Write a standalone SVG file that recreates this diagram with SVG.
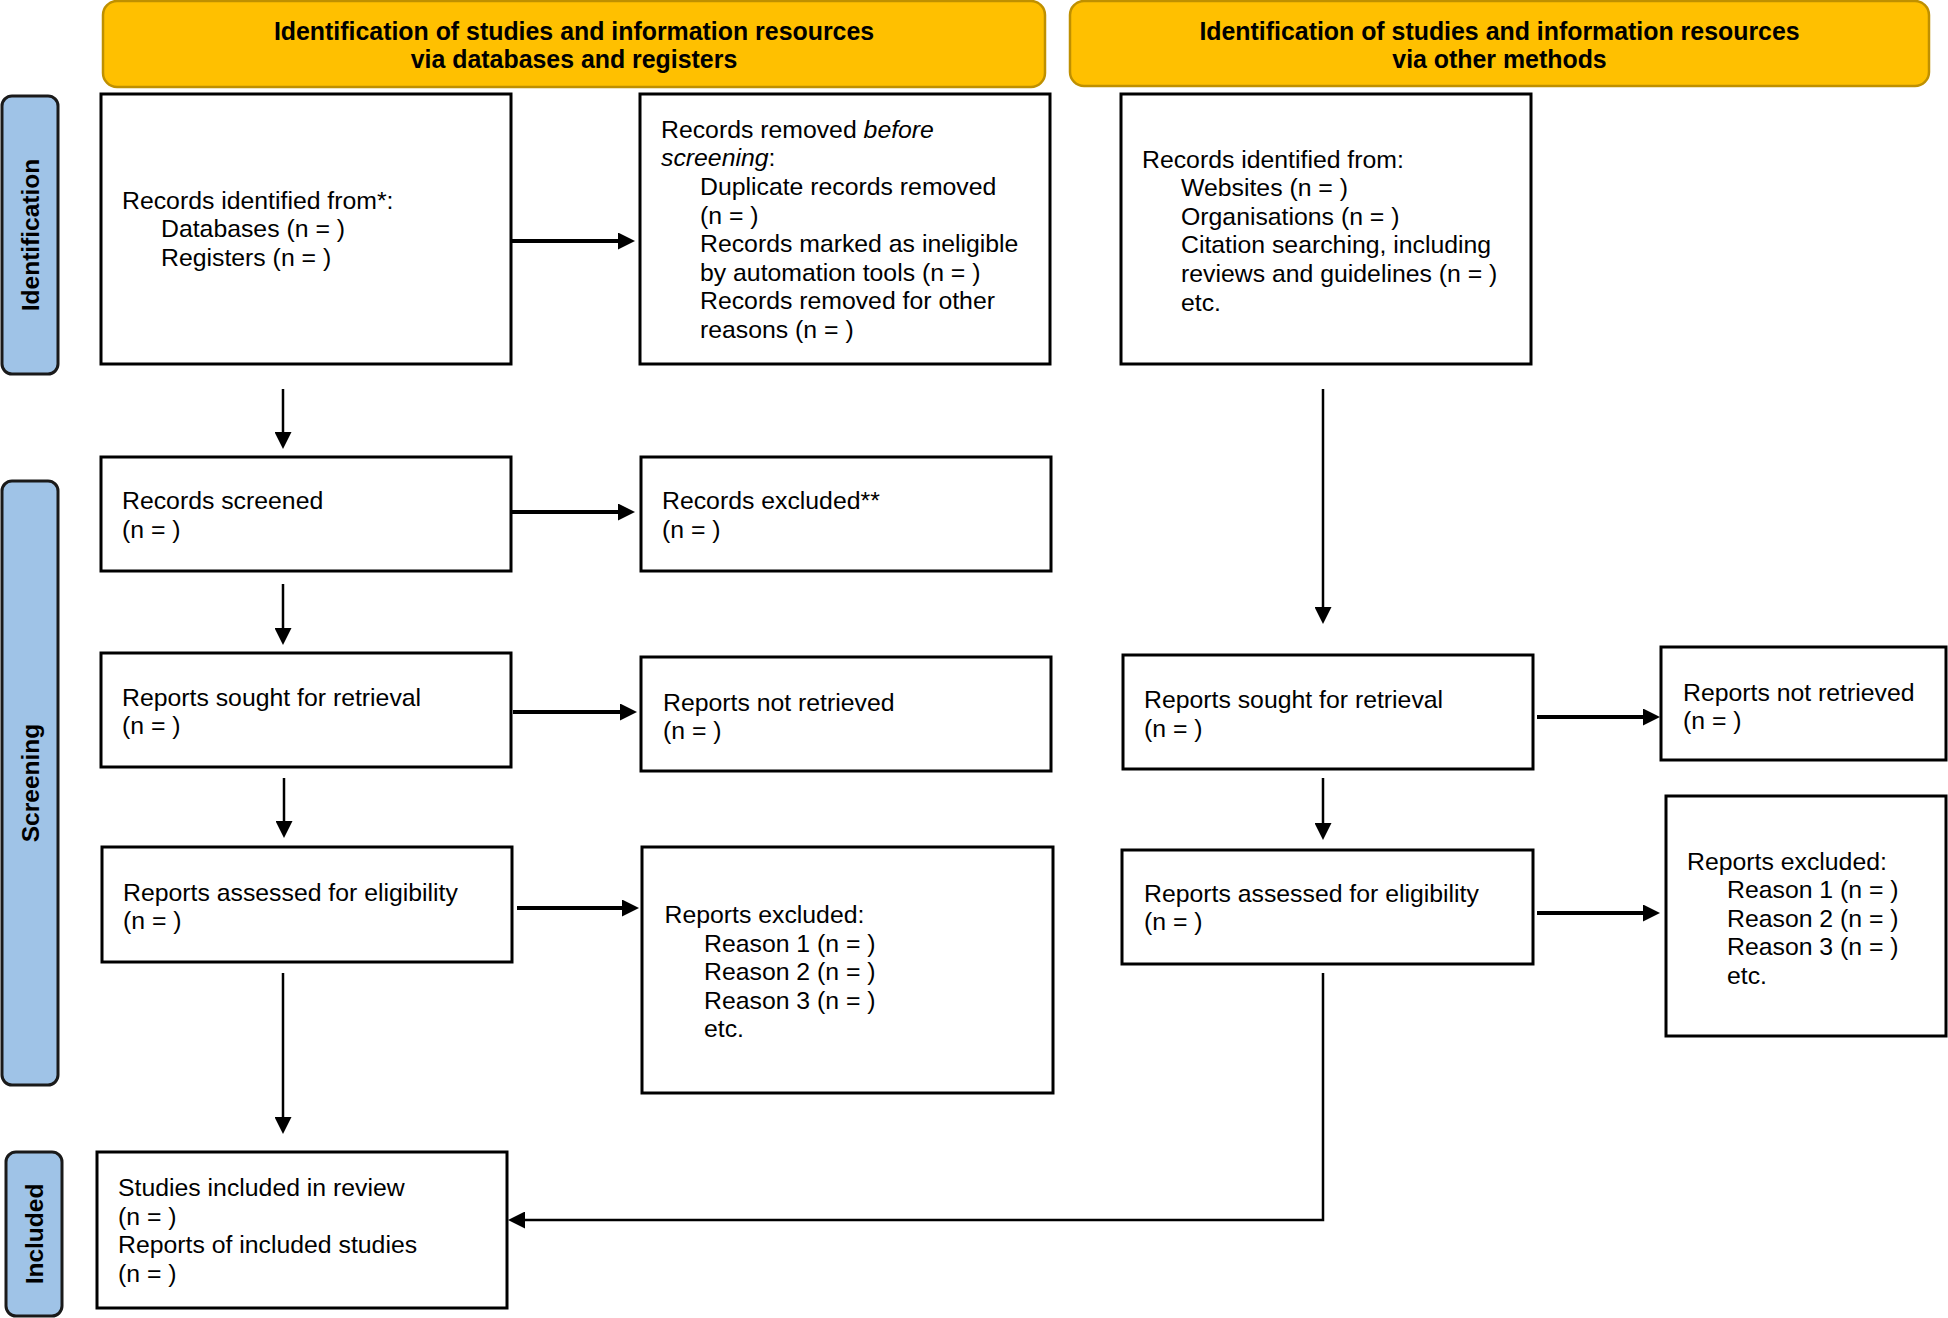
<svg xmlns="http://www.w3.org/2000/svg" width="1948" height="1318" viewBox="0 0 1948 1318">
<style>
.hdr{fill:#FFC000;stroke:#BF9000;stroke-width:2.5}
.side{fill:#9FC3E7;stroke:#1a1a1a;stroke-width:3}
.box{fill:#fff;stroke:#000;stroke-width:3}
.t{font-family:"Liberation Sans",Arial,sans-serif;font-size:24.8px;fill:#000}
.ht{font-family:"Liberation Sans",Arial,sans-serif;font-size:24.9px;font-weight:bold;fill:#000;text-anchor:middle}
.st{font-family:"Liberation Sans",Arial,sans-serif;font-size:24.5px;font-weight:bold;fill:#000;text-anchor:middle;dominant-baseline:central}
.thin{fill:none;stroke:#000;stroke-width:2.5}
.thick{fill:none;stroke:#000;stroke-width:4}
</style>
<defs>
<marker id="ah" markerWidth="17" markerHeight="17" refX="7" refY="8.5" orient="auto" markerUnits="userSpaceOnUse">
<path d="M0,0 L17,8.5 L0,17 z" fill="#000"/>
</marker>
</defs>
<rect width="1948" height="1318" fill="#fff"/>

<g id="header-left"><rect class="hdr" x="103" y="1" width="942" height="86" rx="14"/>
<text class="ht" x="574" y="39.5">Identification of studies and information resources</text>
<text class="ht" x="574" y="68">via databases and registers</text></g>
<g id="header-right"><rect class="hdr" x="1070" y="1" width="859" height="85" rx="14"/>
<text class="ht" x="1499.5" y="39.5">Identification of studies and information resources</text>
<text class="ht" x="1499.5" y="68">via other methods</text></g>

<g id="side-identification"><rect class="side" x="2" y="96" width="56" height="278" rx="10"/>
<text class="st" transform="translate(30,235) rotate(-90)">Identification</text></g>
<g id="side-screening"><rect class="side" x="2" y="481" width="56" height="604" rx="10"/>
<text class="st" transform="translate(30,783) rotate(-90)">Screening</text></g>
<g id="side-included"><rect class="side" x="6" y="1152" width="56" height="164" rx="10"/>
<text class="st" transform="translate(34,1234) rotate(-90)">Included</text></g>

<g id="records-identified"><rect class="box" x="101" y="94" width="410" height="270"/>
<text class="t" x="122" y="208.6">Records identified from*:</text>
<text class="t" x="161" y="237.2">Databases (n = )</text>
<text class="t" x="161" y="265.8">Registers (n = )</text></g>

<g id="records-removed"><rect class="box" x="640" y="94" width="410" height="270"/>
<text class="t" x="661" y="137.8">Records removed <tspan font-style="italic">before</tspan></text>
<text class="t" x="661" y="166.4"><tspan font-style="italic">screening</tspan>:</text>
<text class="t" x="700" y="195">Duplicate records removed</text>
<text class="t" x="700" y="223.5">(n = )</text>
<text class="t" x="700" y="252.1">Records marked as ineligible</text>
<text class="t" x="700" y="280.7">by automation tools (n = )</text>
<text class="t" x="700" y="309.2">Records removed for other</text>
<text class="t" x="700" y="337.8">reasons (n = )</text></g>

<g id="records-other"><rect class="box" x="1121" y="94" width="410" height="270"/>
<text class="t" x="1142" y="167.6">Records identified from:</text>
<text class="t" x="1181" y="196.2">Websites (n = )</text>
<text class="t" x="1181" y="224.8">Organisations (n = )</text>
<text class="t" x="1181" y="253.3">Citation searching, including</text>
<text class="t" x="1181" y="281.9">reviews and guidelines (n = )</text>
<text class="t" x="1181" y="310.5">etc.</text></g>

<g id="records-screened"><rect class="box" x="101" y="457" width="410" height="114"/>
<text class="t" x="122" y="509.2">Records screened</text>
<text class="t" x="122" y="537.8">(n = )</text></g>

<g id="records-excluded"><rect class="box" x="641" y="457" width="410" height="114"/>
<text class="t" x="662" y="509.2">Records excluded**</text>
<text class="t" x="662" y="537.8">(n = )</text></g>

<g id="sought-left"><rect class="box" x="101" y="653" width="410" height="114"/>
<text class="t" x="122" y="705.5">Reports sought for retrieval</text>
<text class="t" x="122" y="734.1">(n = )</text></g>

<g id="notretrieved-left"><rect class="box" x="641" y="657" width="410" height="114"/>
<text class="t" x="663" y="710.5">Reports not retrieved</text>
<text class="t" x="663" y="739.1">(n = )</text></g>

<g id="assessed-left"><rect class="box" x="102" y="847" width="410" height="115"/>
<text class="t" x="123" y="900.6">Reports assessed for eligibility</text>
<text class="t" x="123" y="929.2">(n = )</text></g>

<g id="excluded-left"><rect class="box" x="642" y="847" width="411" height="246"/>
<text class="t" x="664.5" y="922.9">Reports excluded:</text>
<text class="t" x="704" y="951.5">Reason 1 (n = )</text>
<text class="t" x="704" y="980.1">Reason 2 (n = )</text>
<text class="t" x="704" y="1008.6">Reason 3 (n = )</text>
<text class="t" x="704" y="1037.2">etc.</text></g>

<g id="studies-included"><rect class="box" x="97" y="1152" width="410" height="156"/>
<text class="t" x="118" y="1196.2">Studies included in review</text>
<text class="t" x="118" y="1224.8">(n = )</text>
<text class="t" x="118" y="1253.4">Reports of included studies</text>
<text class="t" x="118" y="1282">(n = )</text></g>

<g id="sought-right"><rect class="box" x="1123" y="655" width="410" height="114"/>
<text class="t" x="1144" y="708">Reports sought for retrieval</text>
<text class="t" x="1144" y="736.6">(n = )</text></g>

<g id="notretrieved-right"><rect class="box" x="1661" y="647" width="285" height="113"/>
<text class="t" x="1683" y="700.6">Reports not retrieved</text>
<text class="t" x="1683" y="729.2">(n = )</text></g>

<g id="assessed-right"><rect class="box" x="1122" y="850" width="411" height="114"/>
<text class="t" x="1144" y="901.8">Reports assessed for eligibility</text>
<text class="t" x="1144" y="930.4">(n = )</text></g>

<g id="excluded-right"><rect class="box" x="1666" y="796" width="280" height="240"/>
<text class="t" x="1687" y="869.5">Reports excluded:</text>
<text class="t" x="1727" y="898.1">Reason 1 (n = )</text>
<text class="t" x="1727" y="926.7">Reason 2 (n = )</text>
<text class="t" x="1727" y="955.2">Reason 3 (n = )</text>
<text class="t" x="1727" y="983.8">etc.</text></g>

<g id="connectors">
<line class="thin" x1="283" y1="389" x2="283" y2="439" marker-end="url(#ah)"/>
<line class="thick" x1="512" y1="241" x2="625" y2="241" marker-end="url(#ah)"/>
<line class="thick" x1="512" y1="512" x2="625" y2="512" marker-end="url(#ah)"/>
<line class="thin" x1="283" y1="584" x2="283" y2="635" marker-end="url(#ah)"/>
<line class="thick" x1="513" y1="712" x2="627" y2="712" marker-end="url(#ah)"/>
<line class="thin" x1="284" y1="778" x2="284" y2="828" marker-end="url(#ah)"/>
<line class="thick" x1="517" y1="908" x2="629" y2="908" marker-end="url(#ah)"/>
<line class="thin" x1="283" y1="973" x2="283" y2="1124" marker-end="url(#ah)"/>
<line class="thin" x1="1323" y1="389" x2="1323" y2="614" marker-end="url(#ah)"/>
<line class="thick" x1="1537" y1="717" x2="1650" y2="717" marker-end="url(#ah)"/>
<line class="thin" x1="1323" y1="778" x2="1323" y2="830" marker-end="url(#ah)"/>
<line class="thick" x1="1537" y1="913" x2="1650" y2="913" marker-end="url(#ah)"/>
<polyline class="thin" points="1323,973 1323,1220 518,1220" marker-end="url(#ah)"/>
</g>
</svg>
